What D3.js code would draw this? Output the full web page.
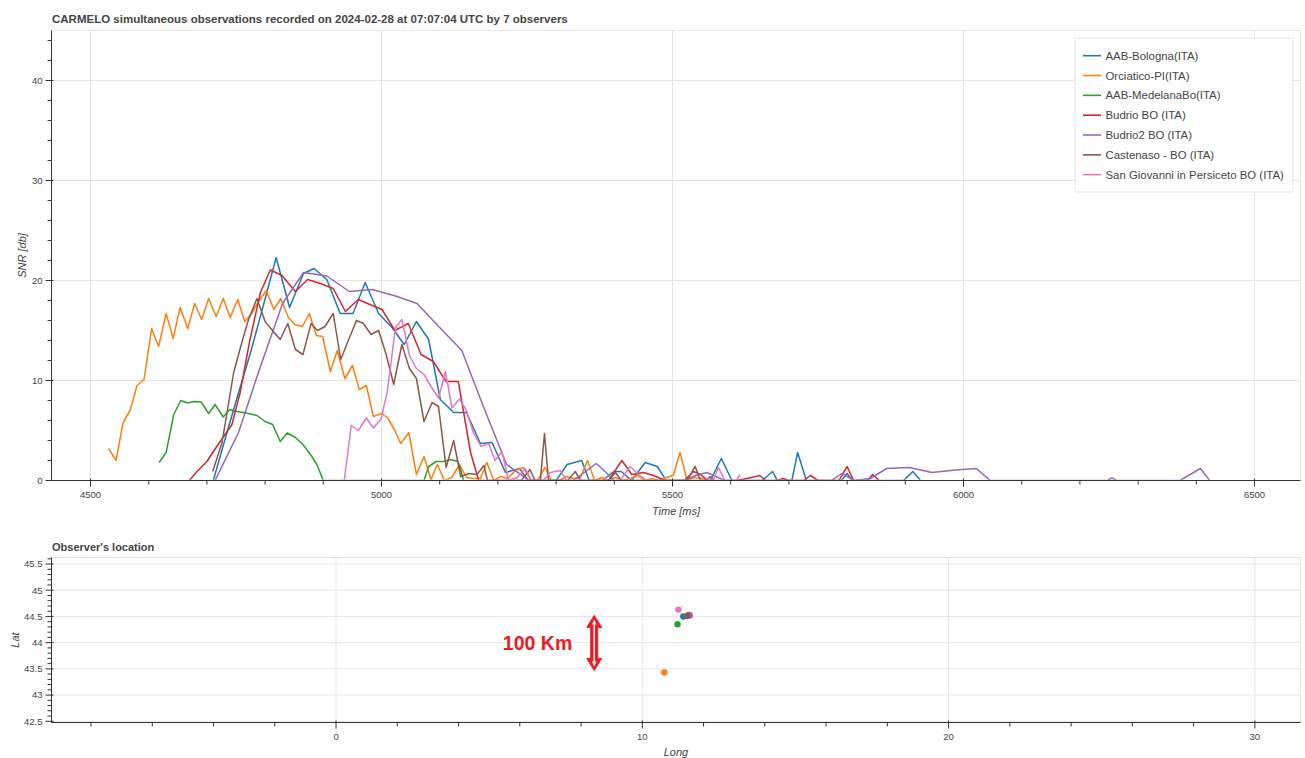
<!DOCTYPE html>
<html>
<head>
<meta charset="utf-8">
<script src="https://cdn.jsdelivr.net/npm/d3@7"></script>
<style>
  body { margin: 0; background: #fff; }
  svg text { font-family: "Liberation Sans", Arial, Helvetica, sans-serif; }
</style>
</head>
<body>
<svg id="chart" width="1305" height="758"></svg>
<script>
// ---- observers ----
const observerNames = [
  "AAB-Bologna(ITA)",
  "Orciatico-PI(ITA)",
  "AAB-MedelanaBo(ITA)",
  "Budrio BO (ITA)",
  "Budrio2 BO (ITA)",
  "Castenaso - BO (ITA)",
  "San Giovanni in Persiceto BO (ITA)"
];
const observerColors = ["#1f77b4", "#ff7f0e", "#2ca02c", "#d62728", "#9467bd", "#8c564b", "#e377c2"];
const observerLong = [11.34, 10.72, 11.15, 11.52, 11.55, 11.47, 11.18];
const observerLat  = [44.50, 43.43, 44.35, 44.53, 44.52, 44.51, 44.63];

// ---- SNR curves: [time ms, SNR db] ----
const snrBologna = [[4711,0],[4733,4.5],[4754,8.7],[4776,13.0],[4797,17.5],[4819,22.3],[4842,17.3],[4866,20.7],[4884,21.2],[4906,20.1],[4929,16.7],[4951,16.7],[4972,19.8],[4995,16.7],[5018,15.3],[5039,13.6],[5060,15.9],[5081,14.1],[5101,8.1],[5124,6.8],[5146,6.8],[5170,3.7],[5190,3.8],[5213,0.8],[5237,1.2],[5252,0],[5300,0],[5319,1.6],[5344,2.0],[5357,0],[5380,0],[5399,0.9],[5412,0.9],[5430,0],[5453,1.8],[5474,1.4],[5489,0],[5565,0],[5584,2.2],[5602,0],[5654,0],[5672,0.9],[5680,0],[5705,0],[5715,2.8],[5730,0],[5790,0],[5800,0.7],[5809,0],[5897,0],[5913,0.9],[5926,0]];
const snrOrciatico = [[4531,3.2],[4544,2.0],[4556,5.8],[4568,7.0],[4580,9.5],[4592,10.1],[4605,15.2],[4617,13.4],[4630,16.7],[4642,14.2],[4654,17.3],[4667,15.2],[4679,17.7],[4691,16.1],[4703,18.2],[4716,16.4],[4728,18.2],[4740,16.3],[4753,18.1],[4765,15.9],[4777,16.7],[4789,17.9],[4802,19.0],[4815,17.1],[4827,18.2],[4840,16.3],[4851,15.6],[4864,15.4],[4876,16.7],[4888,14.5],[4899,14.4],[4912,10.9],[4924,13.0],[4937,10.2],[4950,11.5],[4962,9.1],[4974,9.5],[4986,6.4],[5000,6.7],[5010,6.3],[5022,5.1],[5033,3.7],[5047,4.8],[5060,0.6],[5073,2.4],[5085,0.1],[5096,1.6],[5108,0],[5121,0.3],[5134,1.6],[5146,0.3],[5158,0.2],[5170,0.2],[5181,1.8],[5193,0],[5205,0.4],[5217,0.2],[5230,1.0],[5244,1.3],[5256,0.1],[5268,0],[5281,1.3],[5292,0],[5305,0],[5318,0.4],[5330,0.2],[5342,0.3],[5354,2.0],[5366,0],[5378,0.3],[5390,0],[5402,0.3],[5414,0],[5428,0.2],[5440,0.5],[5452,0],[5465,0.2],[5477,0],[5490,0.3],[5501,0.5],[5513,2.8],[5525,0],[5537,0.3],[5550,0.2],[5562,0]];
const snrMedelana = [[4618,1.8],[4630,2.8],[4643,6.6],[4655,8.0],[4667,7.75],[4678,7.9],[4690,7.85],[4703,6.7],[4714,7.6],[4728,6.35],[4739,7.1],[4751,6.9],[4763,6.8],[4775,6.65],[4786,6.5],[4800,5.9],[4813,5.6],[4826,3.9],[4838,4.75],[4852,4.3],[4865,3.6],[4878,2.6],[4889,1.6],[4900,0],[5073,0],[5081,1.4],[5094,1.9],[5107,1.9],[5119,2.1],[5131,1.9],[5136,1.1],[5141,0]];
const snrBudrio = [[4670,0],[4683,0.9],[4700,1.9],[4717,3.4],[4743,5.6],[4757,8.75],[4774,14.1],[4792,18.8],[4809,21.05],[4829,20.5],[4852,18.9],[4873,20.1],[4895,19.7],[4917,19.2],[4938,16.9],[4960,18.1],[4980,17.6],[5001,17.1],[5023,15.0],[5046,15.7],[5068,12.6],[5089,11.9],[5111,9.9],[5132,9.9],[5153,2.8],[5167,0],[5390,0],[5413,2.0],[5430,0.6],[5450,0.8],[5467,0.5],[5487,0],[5520,0],[5536,0.9],[5548,0.6],[5560,0],[5610,0],[5628,0.2],[5650,0.5],[5660,0],[5680,0],[5690,0.2],[5700,0],[5725,0],[5737,0.5],[5750,0],[5786,0],[5800,1.4],[5811,0],[5835,0],[5844,0.6],[5855,0]];
const snrBudrio2 = [[4714,0],[4754,4.75],[4792,11.4],[4830,17.7],[4866,20.8],[4906,20.45],[4945,18.9],[4984,19.1],[5024,18.45],[5061,17.7],[5100,15.3],[5138,13.0],[5175,7.4],[5215,1.6],[5254,0],[5330,0],[5369,1.7],[5384,0.9],[5400,0],[5520,0],[5540,0.5],[5559,0.8],[5590,0],[5773,0],[5791,0.7],[5812,0],[5840,0.2],[5868,1.2],[5907,1.3],[5946,0.8],[5986,1.05],[6022,1.2],[6046,0],[6247,0],[6255,0.25],[6263,0],[6372,0],[6407,1.2],[6423,0]];
const snrCastenaso = [[4710,0.9],[4726,3.8],[4746,10.8],[4760,13.8],[4771,16.0],[4786,18.2],[4800,15.9],[4814,14.9],[4826,14.1],[4839,15.7],[4852,13.1],[4865,12.6],[4879,15.7],[4890,15.0],[4903,15.4],[4917,16.7],[4930,12.1],[4943,14.0],[4957,16.0],[4969,15.7],[4982,14.6],[4995,15.0],[5008,12.6],[5021,9.6],[5035,13.6],[5048,11.2],[5060,10.2],[5073,5.9],[5087,7.8],[5098,7.4],[5111,1.3],[5124,4.0],[5136,0.4],[5150,0.7],[5164,0.6],[5176,1.5],[5182,0],[5240,0],[5255,1.1],[5264,0],[5273,0],[5280,4.7],[5287,0],[5320,0],[5333,0.9],[5342,0],[5390,0],[5402,0.8],[5412,0],[5525,0],[5539,1.4],[5548,0],[5558,0],[5565,0.4],[5572,0]];
const snrPersiceto = [[4936,0],[4948,5.5],[4960,5.0],[4974,6.25],[4986,5.25],[4999,6.1],[5010,8.9],[5024,15.3],[5035,16.1],[5048,12.5],[5060,11.2],[5073,10.6],[5085,9.4],[5098,8.25],[5110,10.9],[5121,7.25],[5134,8.15],[5146,7.0],[5158,4.75],[5171,3.4],[5184,3.7],[5195,2.0],[5207,2.9],[5218,0],[5233,0.3],[5247,1.2],[5258,0],[5278,0],[5290,0.8],[5307,1.0],[5318,0],[5410,0],[5427,1.4],[5442,0.6],[5455,0],[5570,0],[5579,1.3],[5590,0],[5610,0],[5616,0.6]];
const snrSeries = [snrBologna, snrOrciatico, snrMedelana, snrBudrio, snrBudrio2, snrCastenaso, snrPersiceto];

// ---- axes ----
const timeDomain = [4433, 6579];
const snrDomain = [0, 45];
const timeTicks = [4500, 5000, 5500, 6000, 6500];
const snrTicks = [0, 10, 20, 30, 40];
const longDomain = [-9.29, 31.49];
const latDomain = [42.477, 45.624];
const longTicks = [0, 10, 20, 30];
const latTicks = [42.5, 43, 43.5, 44, 44.5, 45, 45.5];

// 100 km scale marker in map coordinates
const scaleBarLong = 8.43;
const scaleBarLat = [43.47, 44.52];
const scaleBarLabel = "100 Km";

const titleTop = "CARMELO simultaneous observations recorded on 2024-02-28 at 07:07:04 UTC by 7 observers";
const titleBottom = "Observer's location";

const svg = d3.select("#chart");
const GRID = "#e5e5e5", AXIS = "#333", LABEL = "#444";

function minorValues(lo, hi, step, majors) {
  const out = [];
  for (let i = Math.ceil(lo / step); i * step <= hi; i++) {
    const v = +(i * step).toFixed(6);
    if (!majors.some(m => Math.abs(m - v) < 1e-6)) out.push(v);
  }
  return out;
}

function panel(box, xs, ys, xTicks, yTicks) {
  const g = svg.append("g");
  g.append("g").selectAll("line").data(xTicks).join("line")
    .attr("x1", d => xs(d)).attr("x2", d => xs(d))
    .attr("y1", box.t).attr("y2", box.b)
    .attr("stroke", GRID).attr("stroke-width", 1);
  g.append("g").selectAll("line").data(yTicks).join("line")
    .attr("x1", box.l).attr("x2", box.r)
    .attr("y1", d => ys(d)).attr("y2", d => ys(d))
    .attr("stroke", GRID).attr("stroke-width", 1);
  g.append("rect").attr("x", box.l).attr("y", box.t)
    .attr("width", box.r - box.l).attr("height", box.b - box.t)
    .attr("fill", "none").attr("stroke", GRID);
  return g;
}

function axes(box, xs, ys, xTicks, yTicks, xMinor, yMinor, xFmt, yFmt) {
  const g = svg.append("g");
  const xa = g.append("g").attr("transform", `translate(0,${box.b})`)
    .call(d3.axisBottom(xs).offset(0).tickValues(xTicks).tickSize(6).tickSizeOuter(0).tickFormat(xFmt));
  const xm = g.append("g").attr("transform", `translate(0,${box.b})`)
    .call(d3.axisBottom(xs).offset(0).tickValues(xMinor).tickSize(4).tickSizeOuter(0).tickFormat(""));
  const ya = g.append("g").attr("transform", `translate(${box.l},0)`)
    .call(d3.axisLeft(ys).offset(0).tickValues(yTicks).tickSize(6).tickSizeOuter(0).tickFormat(yFmt));
  const ym = g.append("g").attr("transform", `translate(${box.l},0)`)
    .call(d3.axisLeft(ys).offset(0).tickValues(yMinor).tickSize(4).tickSizeOuter(0).tickFormat(""));
  [xa, xm, ya, ym].forEach(a => {
    a.select(".domain").attr("stroke", AXIS);
    a.selectAll(".tick line").attr("stroke", AXIS);
  });
  xm.select(".domain").remove();
  ym.select(".domain").remove();
  xa.selectAll(".tick line").attr("y1", -2);
  ya.selectAll(".tick line").attr("x1", 2);
  xa.selectAll(".tick text").attr("y", 17.5).attr("dy", 0)
    .attr("fill", LABEL).style("font-size", "9.5px")
    .style("font-family", '"Liberation Sans", Arial, sans-serif');
  ya.selectAll(".tick text").attr("x", -9).attr("dy", "0.35em")
    .attr("fill", LABEL).style("font-size", "9.5px")
    .style("font-family", '"Liberation Sans", Arial, sans-serif');
  return g;
}

// ===== SNR panel =====
const boxA = { l: 51.5, r: 1300.5, t: 30.5, b: 480.5 };
const xT = d3.scaleLinear().domain(timeDomain).range([boxA.l, boxA.r]);
const yS = d3.scaleLinear().domain(snrDomain).range([boxA.b, boxA.t]);

panel(boxA, xT, yS, timeTicks, snrTicks);

// keep the curves inside the frame; the zero baseline sits under the axis line
svg.append("clipPath").attr("id", "snr-clip")
  .append("rect").attr("x", boxA.l).attr("y", boxA.t)
  .attr("width", boxA.r - boxA.l).attr("height", yS(0) - 0.8 - boxA.t);

const lineGen = d3.line().x(d => xT(d[0])).y(d => yS(d[1]));
const curves = svg.append("g").attr("clip-path", "url(#snr-clip)");
snrSeries.forEach((s, i) => {
  curves.append("path").datum(s)
    .attr("d", lineGen)
    .attr("fill", "none")
    .attr("stroke", observerColors[i])
    .attr("stroke-width", 1.5)
    .attr("stroke-linejoin", "round");
});

axes(boxA, xT, yS, timeTicks, snrTicks,
  minorValues(timeDomain[0], timeDomain[1], 100, timeTicks),
  minorValues(snrDomain[0], snrDomain[1], 2, snrTicks),
  d3.format("d"), d3.format("d"));

svg.append("text").attr("x", 52).attr("y", 23)
  .attr("fill", LABEL).style("font-size", "11.5px").style("font-weight", "bold")
  .text(titleTop);

svg.append("text").attr("x", (boxA.l + boxA.r) / 2).attr("y", 515)
  .attr("text-anchor", "middle").attr("fill", LABEL)
  .style("font-size", "11px").style("font-style", "italic")
  .text("Time [ms]");

svg.append("text")
  .attr("transform", `translate(26,${(boxA.t + boxA.b) / 2}) rotate(-90)`)
  .attr("text-anchor", "middle").attr("fill", LABEL)
  .style("font-size", "11px").style("font-style", "italic")
  .text("SNR [db]");

// legend
const legend = svg.append("g");
const legX = 1075, legY = 38, legW = 218, legRow = 19.83;
legend.append("rect").attr("x", legX).attr("y", legY)
  .attr("width", legW).attr("height", 154)
  .attr("fill", "#fff").attr("stroke", GRID);
observerNames.forEach((name, i) => {
  const cy = 55.7 + i * legRow;
  legend.append("line").attr("x1", legX + 8).attr("x2", legX + 26)
    .attr("y1", cy).attr("y2", cy)
    .attr("stroke", observerColors[i]).attr("stroke-width", 1.6);
  legend.append("text").attr("x", legX + 30.5).attr("y", cy).attr("dy", "0.35em")
    .attr("fill", LABEL).style("font-size", "11.4px").text(name);
});

// ===== location panel =====
const boxB = { l: 51.5, r: 1300.5, t: 557.5, b: 722.5 };
const xL = d3.scaleLinear().domain(longDomain).range([boxB.l, boxB.r]);
const yL = d3.scaleLinear().domain(latDomain).range([boxB.b, boxB.t]);

panel(boxB, xL, yL, longTicks, latTicks);

svg.append("g").selectAll("circle").data(observerLong).join("circle")
  .attr("cx", d => xL(d))
  .attr("cy", (d, i) => yL(observerLat[i]))
  .attr("r", 3.2)
  .attr("fill", (d, i) => observerColors[i]);

axes(boxB, xL, yL, longTicks, latTicks,
  minorValues(longDomain[0], longDomain[1], 2, longTicks),
  minorValues(latDomain[0], latDomain[1], 0.1, latTicks),
  d3.format("d"), d => d3.format("")(d));

svg.append("text").attr("x", 52).attr("y", 550.7)
  .attr("fill", LABEL).style("font-size", "11px").style("font-weight", "bold")
  .text(titleBottom);

svg.append("text").attr("x", (boxB.l + boxB.r) / 2).attr("y", 755.5)
  .attr("text-anchor", "middle").attr("fill", LABEL)
  .style("font-size", "11px").style("font-style", "italic")
  .text("Long");

svg.append("text")
  .attr("transform", `translate(18.5,${(boxB.t + boxB.b) / 2}) rotate(-90)`)
  .attr("text-anchor", "middle").attr("fill", LABEL)
  .style("font-size", "11px").style("font-style", "italic")
  .text("Lat");

// 100 km marker: thick red double arrow with a white core
const RED = "#ed1c24";
const ax = xL(scaleBarLong), ayTop = yL(scaleBarLat[1]), ayBot = yL(scaleBarLat[0]);
const headW = 7.5, shaftW = 3.5, headL = 12;
const arrowPath = [
  [ax, ayTop], [ax + headW, ayTop + headL], [ax + shaftW, ayTop + headL],
  [ax + shaftW, ayBot - headL], [ax + headW, ayBot - headL], [ax, ayBot],
  [ax - headW, ayBot - headL], [ax - shaftW, ayBot - headL],
  [ax - shaftW, ayTop + headL], [ax - headW, ayTop + headL]
];
const marker = svg.append("g");
marker.append("path").attr("d", "M" + arrowPath.map(p => p.join(",")).join("L") + "Z")
  .attr("fill", RED).attr("stroke", RED).attr("stroke-width", 1).attr("stroke-linejoin", "round");
const innerTop = ayTop + 4, innerBot = ayBot - 4;
marker.append("line").attr("x1", ax).attr("x2", ax)
  .attr("y1", innerTop + 3).attr("y2", innerBot - 3)
  .attr("stroke", "#fff").attr("stroke-width", 1.4);
marker.append("path")
  .attr("d", `M${ax},${innerTop} L${ax + 2.2},${innerTop + 5} L${ax - 2.2},${innerTop + 5} Z M${ax},${innerBot} L${ax + 2.2},${innerBot - 5} L${ax - 2.2},${innerBot - 5} Z`)
  .attr("fill", "#fff");
marker.append("text")
  .attr("x", ax - 22).attr("y", (ayTop + ayBot) / 2).attr("dy", "0.35em")
  .attr("text-anchor", "end").attr("fill", RED)
  .style("font-size", "19.5px").style("font-weight", "bold")
  .text(scaleBarLabel);
</script>
</body>
</html>
